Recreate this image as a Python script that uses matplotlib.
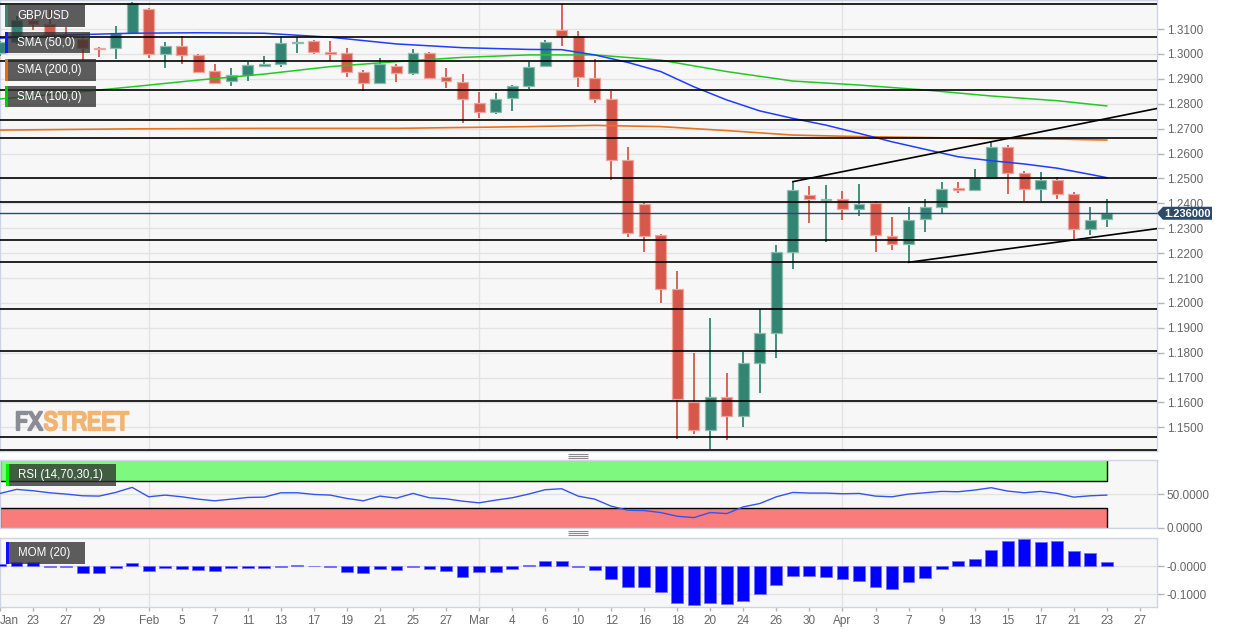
import matplotlib
matplotlib.use('Agg')
import matplotlib.pyplot as plt
from matplotlib.patches import Rectangle, Polygon
from matplotlib import font_manager
import matplotlib.patheffects as pe
import numpy as np
import pandas as pd

plt.rcParams['font.family'] = ['Liberation Sans', 'DejaVu Sans']

# ---------------- data ----------------
dates = pd.bdate_range('2020-01-21', '2020-04-23')

opens = [1.3004, 1.3046, 1.3138, 1.3120, 1.3076, 1.3059, 1.3024, 1.3022, 1.3083, 1.3180,
         1.2998, 1.3030, 1.2996, 1.2931, 1.2891, 1.2915, 1.2951, 1.2959, 1.3042, 1.3052,
         1.3006, 1.3002, 1.2929, 1.2882, 1.2951, 1.2924, 1.3002, 1.2906, 1.2888, 1.2804,
         1.2768, 1.2822, 1.2871, 1.2951, 1.3096, 1.3073, 1.2904, 1.2817, 1.2574, 1.2397,
         1.2273, 1.2056, 1.1603, 1.1490, 1.1623, 1.1547, 1.1760, 1.1881, 1.2206, 1.2433,
         1.2413, 1.2417, 1.2377, 1.2403, 1.2270, 1.2235, 1.2336, 1.2386, 1.2460, 1.2453,
         1.2503, 1.2625, 1.2520, 1.2456, 1.2494, 1.2436, 1.2296, 1.2336]
highs = [1.3050, 1.3152, 1.3160, 1.3176, 1.3107, 1.3070, 1.3027, 1.3112, 1.3210, 1.3185,
         1.3047, 1.3072, 1.3000, 1.2959, 1.2945, 1.2969, 1.2992, 1.3072, 1.3067, 1.3055,
         1.3053, 1.3022, 1.2935, 1.2982, 1.2960, 1.3018, 1.3009, 1.2945, 1.2919, 1.2848,
         1.2844, 1.2875, 1.2969, 1.3056, 1.3199, 1.3092, 1.2978, 1.2852, 1.2627, 1.2405,
         1.2277, 1.2129, 1.1798, 1.1938, 1.1717, 1.1804, 1.1974, 1.2233, 1.2487, 1.2470,
         1.2473, 1.2449, 1.2478, 1.2409, 1.2344, 1.2384, 1.2417, 1.2484, 1.2487, 1.2537,
         1.2647, 1.2634, 1.2530, 1.2525, 1.2507, 1.2447, 1.2386, 1.2416]
lows = [1.2990, 1.3040, 1.3095, 1.3065, 1.3035, 1.2975, 1.2989, 1.2978, 1.3080, 1.2982,
        1.2942, 1.2959, 1.2922, 1.2879, 1.2872, 1.2892, 1.2949, 1.2949, 1.3002, 1.2998,
        1.2971, 1.2906, 1.2852, 1.2880, 1.2888, 1.2915, 1.2898, 1.2862, 1.2724, 1.2741,
        1.2757, 1.2771, 1.2859, 1.2948, 1.3033, 1.2868, 1.2804, 1.2494, 1.2263, 1.2203,
        1.2001, 1.1452, 1.1472, 1.1412, 1.1450, 1.1503, 1.1639, 1.1778, 1.2135, 1.2322,
        1.2243, 1.2333, 1.2349, 1.2206, 1.2212, 1.2163, 1.2286, 1.2360, 1.2443, 1.2450,
        1.2500, 1.2436, 1.2409, 1.2409, 1.2416, 1.2253, 1.2273, 1.2306]
closes = [1.3046, 1.3135, 1.3120, 1.3076, 1.3066, 1.3022, 1.3018, 1.3083, 1.3203, 1.3000,
          1.3032, 1.2996, 1.2929, 1.2882, 1.2915, 1.2955, 1.2958, 1.3045, 1.3049, 1.3006,
          1.3000, 1.2929, 1.2882, 1.2958, 1.2925, 1.3002, 1.2904, 1.2891, 1.2818, 1.2768,
          1.2819, 1.2871, 1.2949, 1.3047, 1.3073, 1.2906, 1.2817, 1.2574, 1.2279, 1.2269,
          1.2056, 1.1613, 1.1490, 1.1623, 1.1547, 1.1760, 1.1881, 1.2206, 1.2453, 1.2417,
          1.2417, 1.2377, 1.2397, 1.2273, 1.2235, 1.2333, 1.2386, 1.2459, 1.2453, 1.2503,
          1.2627, 1.2520, 1.2456, 1.2494, 1.2436, 1.2296, 1.2333, 1.2360]

sma50_idx = [0, 4, 8, 12, 16, 20, 24, 28, 32, 34, 36, 38, 40, 42, 44, 46, 48, 50, 52,
             54, 56, 58, 60, 62, 64, 66, 67]
sma50_val = [1.3063, 1.3076, 1.3083, 1.3085, 1.3083, 1.3067, 1.3040, 1.3025, 1.3018, 1.3017,
             1.2996, 1.2966, 1.2929, 1.2868, 1.2815, 1.2771, 1.2741, 1.2714, 1.2681, 1.2647,
             1.2617, 1.2587, 1.2571, 1.2558, 1.2541, 1.2516, 1.2503]
sma100_idx = [0, 4, 8, 12, 16, 20, 24, 28, 32, 36, 40, 44, 48, 52, 56, 60, 64, 67]
sma100_val = [1.2819, 1.2842, 1.2868, 1.2895, 1.2919, 1.2949, 1.2969, 1.2986, 1.2996, 1.2996,
              1.2975, 1.2929, 1.2891, 1.2875, 1.2855, 1.2831, 1.2812, 1.2791]
sma200_idx = [0, 8, 16, 24, 32, 36, 40, 44, 48, 52, 56, 60, 64, 67]
sma200_val = [1.2694, 1.2699, 1.2701, 1.2701, 1.2708, 1.2713, 1.2708, 1.2692, 1.2674, 1.2668,
              1.2664, 1.2660, 1.2658, 1.2654]

levels = [1.3199, 1.3067, 1.2970, 1.2855, 1.2735, 1.2662, 1.2502, 1.2406, 1.2251, 1.2163,
          1.1974, 1.1806, 1.1605, 1.1460, 1.1409]

trend_up_idx = [48, 60]
trend_up_val = [1.2487, 1.2647]
trend_lo_idx = [55, 65]
trend_lo_val = [1.2163, 1.2253]

rsi = [51, 57, 55, 52, 50, 47.5, 47, 52.5, 60, 46, 48.5, 46, 42.5, 40, 42.5, 45, 45.5, 52,
       52, 49.5, 48.5, 43.5, 40, 47, 44, 51, 44.5, 43, 39.5, 37, 41, 44.5, 50, 56.5, 58, 47,
       42.5, 32, 26, 25.5, 22.5, 17, 15, 22.5, 21, 31, 36, 46, 52.5, 51.5, 51.5, 50.5, 51,
       47, 46, 50, 52, 54, 53.5, 56, 59.5, 54.5, 52, 54, 51, 45.5, 47.5, 48.5]

mom = [0.008, 0.015, 0.014, -0.002, -0.004, -0.024, -0.024, -0.006, 0.012, -0.017, -0.008,
       -0.010, -0.014, -0.017, -0.007, -0.007, -0.008, -0.004, 0.004, 0.000, -0.004, -0.021,
       -0.024, -0.011, -0.013, -0.002, -0.011, -0.019, -0.038, -0.023, -0.020, -0.011, 0.002,
       0.018, 0.018, -0.005, -0.014, -0.046, -0.076, -0.074, -0.094, -0.131, -0.139, -0.133,
       -0.137, -0.124, -0.101, -0.068, -0.036, -0.035, -0.040, -0.048, -0.055, -0.076, -0.083,
       -0.057, -0.043, -0.011, 0.018, 0.024, 0.057, 0.090, 0.096, 0.087, 0.089, 0.055, 0.045,
       0.015]

tick_dates = ['2020-01-21', '2020-01-23', '2020-01-27', '2020-01-29', '2020-02-03',
              '2020-02-05', '2020-02-07', '2020-02-11', '2020-02-13', '2020-02-17',
              '2020-02-19', '2020-02-21', '2020-02-25', '2020-02-27', '2020-03-02',
              '2020-03-04', '2020-03-06', '2020-03-10', '2020-03-12', '2020-03-16',
              '2020-03-18', '2020-03-20', '2020-03-24', '2020-03-26', '2020-03-30',
              '2020-04-01', '2020-04-03', '2020-04-07', '2020-04-09', '2020-04-13',
              '2020-04-15', '2020-04-17', '2020-04-21', '2020-04-23', '2020-04-27']
tick_labels = ['Jan', '23', '27', '29', 'Feb', '5', '7', '11', '13', '17', '19', '21', '25',
               '27', 'Mar', '4', '6', '10', '12', '16', '18', '20', '24', '26', '30', 'Apr',
               '3', '7', '9', '13', '15', '17', '21', '23', '27']
month_dates = ['2020-02-03', '2020-03-02', '2020-04-01']
right_edge_date = '2020-04-29'

# ---------------- helpers ----------------
start = np.datetime64(dates[0].date())


def idx(d):
    return np.busday_count(start, np.datetime64(d))


W, H = 1233, 632
fig = plt.figure(figsize=(W / 100, H / 100), dpi=100)
fig.patch.set_facecolor('white')


def rect(top, bottom, left=0, right=1157):
    return [left / W, 1 - bottom / H, (right - left) / W, (bottom - top) / H]


ax = fig.add_axes(rect(0, 451))
ax_rsi = fig.add_axes(rect(460, 528))
ax_mom = fig.add_axes(rect(537.5, 606.5))

x = np.arange(len(dates))
xmax = idx(right_edge_date) + 0.04 - 1.0
BG = '#f7f7f7'
GRID = '#e3e3e3'
SPINE = '#cdd4e4'
GREEN = '#338573'
GREEN_E = '#8dbcaf'
RED = '#d6584a'
RED_E = '#eca69d'

for a in (ax, ax_rsi, ax_mom):
    a.set_facecolor(BG)
    a.set_xlim(0, xmax)
    for s in a.spines.values():
        s.set_color(SPINE)
        s.set_linewidth(1)
    a.set_axisbelow(True)
    for md in month_dates:
        a.axvline(idx(md), color=GRID, lw=1, zorder=0)
    a.yaxis.tick_right()
    a.tick_params(axis='y', length=5, width=1, color='#b5b5b5', labelsize=8.5,
                  labelcolor='#666666', pad=2)

# ---------------- main panel ----------------
ax.set_ylim(1.14052, 1.32165)
yt = np.round(np.arange(1.15, 1.3101, 0.01), 4)
ax.set_yticks(yt)
ax.set_yticklabels([f'{v:.4f}' for v in yt])
ax.grid(axis='y', color=GRID, lw=1, zorder=0)
ax.tick_params(axis='x', bottom=False, labelbottom=False)

for i in range(len(dates)):
    o, h, l, c = opens[i], highs[i], lows[i], closes[i]
    up = c >= o
    col = GREEN if up else RED
    ec = GREEN_E if up else RED_E
    ax.vlines(x[i], l, h, color=col, lw=1.3, zorder=3)
    ax.bar(x[i], max(abs(c - o), 0.00015), bottom=min(o, c), width=0.66, color=col,
           edgecolor=ec, linewidth=0.9, zorder=4)

ax.plot(sma200_idx, sma200_val, color='#e8731f', lw=1.2, zorder=5)
ax.plot(sma100_idx, sma100_val, color='#22c922', lw=1.1, zorder=5)
ax.plot(sma50_idx, sma50_val, color='#1f3cff', lw=1.1, zorder=5)

ax.hlines(levels, 0, xmax, color='black', lw=1.2, zorder=6)

for ix, vals in ((trend_up_idx, trend_up_val), (trend_lo_idx, trend_lo_val)):
    slope = (vals[1] - vals[0]) / (ix[1] - ix[0])
    ax.plot([ix[0], xmax], [vals[0], vals[0] + slope * (xmax - ix[0])],
            color='black', lw=1.2, zorder=6)

PRICE = '#2d4a6a'
ax.axhline(closes[-1], color=PRICE, lw=1, zorder=6)

# ---------------- RSI panel ----------------
ax_rsi.set_ylim(-0.5, 100.8)
ax_rsi.add_patch(Rectangle((0, 70), x[-1], 40, facecolor='#7ef87e', edgecolor='black',
                           lw=1, zorder=1))
ax_rsi.add_patch(Rectangle((0, -10), x[-1], 40, facecolor='#f97c7c', edgecolor='black',
                           lw=1, zorder=1))
ax_rsi.set_yticks([0, 50])
ax_rsi.set_yticklabels(['0.0000', '50.0000'])
ax_rsi.grid(axis='y', color=GRID, lw=1, zorder=0)
ax_rsi.plot(x, rsi, color='#3355ee', lw=1, zorder=3)
ax_rsi.tick_params(axis='x', bottom=False, labelbottom=False)

# ---------------- MOM panel ----------------
ax_mom.set_ylim(-0.1446, 0.1018)
ax_mom.set_yticks([0, -0.1])
ax_mom.set_yticklabels(['-0.0000', '-0.1000'])
ax_mom.grid(axis='y', color=GRID, lw=1, zorder=0)
ax_mom.bar(x, mom, width=0.72, color='#0000ff', edgecolor='#7070ff', linewidth=0.6, zorder=3)
ax_mom.set_xticks([idx(d) for d in tick_dates])
ax_mom.set_xticklabels(tick_labels)
ax_mom.tick_params(axis='x', length=3, width=1, color='#b5b5b5', labelsize=8.5,
                   labelcolor='#666666', pad=3)
ax_mom.get_xticklabels()[0].set_ha('left')

# ---------------- overlay (legends, tag, watermark) ----------------
ov = fig.add_axes([0, 0, 1, 1], zorder=10)
ov.set_xlim(0, W)
ov.set_ylim(H, 0)
ov.axis('off')
ov.patch.set_alpha(0)


def legend_box(x0, y0, x1, y1, strip, text):
    ov.add_patch(Rectangle((x0 + 2.5, y0), x1 - x0 - 2.5, y1 - y0, facecolor='#303030',
                           alpha=0.78, lw=0))
    ov.add_patch(Rectangle((x0, y0), 2.5, y1 - y0, facecolor=strip, lw=0))
    ov.text(x0 + 12, (y0 + y1) / 2 + 0.5, text, color='white', fontsize=8.3,
            va='center', ha='left')


legend_box(5, 5, 85, 26.7, '#2f8a72', 'GBP/USD')
legend_box(5, 32, 90, 53.3, '#0022ff', 'SMA (50,0)')
legend_box(5, 59.3, 96, 80.7, '#ee6a10', 'SMA (200,0)')
legend_box(5, 86, 96, 107.3, '#00cc00', 'SMA (100,0)')
legend_box(6, 464, 116, 485.7, '#00ee00', 'RSI (14,70,30,1)')
legend_box(6, 542, 85, 563.7, '#1010ff', 'MOM (20)')

# price tag
fig.canvas.draw()
yp = H - ax.transData.transform((0, closes[-1]))[1]
ov.add_patch(Polygon([(1157, yp), (1163, yp - 6.5), (1212, yp - 6.5), (1212, yp + 6.5),
                      (1163, yp + 6.5)], closed=True, facecolor=PRICE, lw=0))
ov.text(1187.5, yp + 0.5, f'{closes[-1]:.6f}', color='white', fontsize=8, fontweight='bold',
        ha='center', va='center')

# panel handles
ov.hlines([453.5, 455.5, 457.5], 568, 588, color='#8a8a8a', lw=0.8)
ov.hlines([531.0, 533.0, 535.0], 568, 588, color='#8a8a8a', lw=0.8)

# watermark: pick a narrow face if one is installed
names = sorted({f.name for f in font_manager.fontManager.ttflist})
narrow = [n for n in names if 'Narrow' in n or 'Condensed' in n]
wm_family = [narrow[0], 'Liberation Sans'] if narrow else ['Liberation Sans']
wm_size = 19 if narrow else 15.5
renderer = fig.canvas.get_renderer()
t_fx = ov.text(15, 430, 'FX', color='#8c8c96', fontsize=wm_size, fontweight='bold',
               family=wm_family, va='baseline', ha='left',
               path_effects=[pe.withStroke(linewidth=1.6, foreground='#8c8c96')])
bb = t_fx.get_window_extent(renderer=renderer)
ov.text(bb.x1 + 1, 430, 'STREET', color='#f0b572', fontsize=wm_size, fontweight='bold',
        family=wm_family, va='baseline', ha='left',
        path_effects=[pe.withStroke(linewidth=1.6, foreground='#f0b572')])

fig.savefig('out.png', dpi=100, facecolor='white')
